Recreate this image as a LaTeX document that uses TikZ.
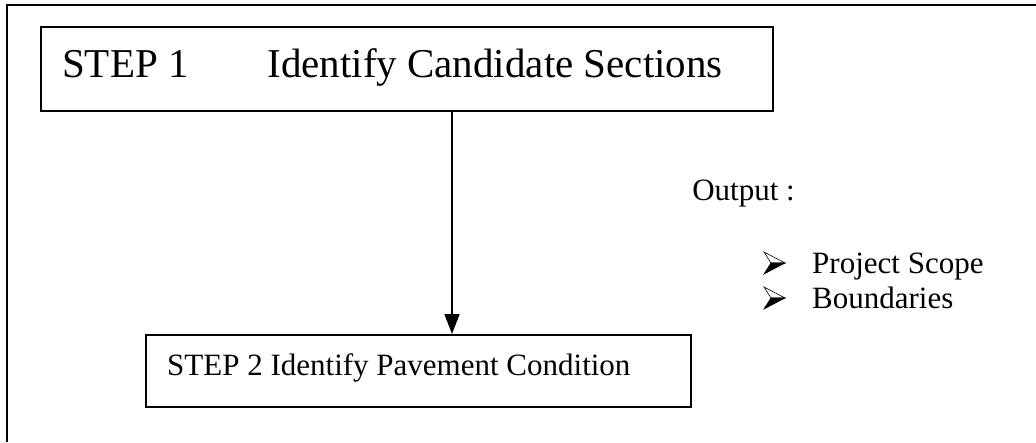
\documentclass[tikz,border=0pt]{standalone}
\usepackage{fontspec}
\setmainfont{Liberation Serif}
\usetikzlibrary{arrows.meta}
\tikzset{
  frameline/.style={line width=1.8pt, black},
  stepbox/.style={draw, line width=1.8pt, black},
  bigtext/.style={font=\fontsize{41}{49}\selectfont, inner sep=0pt},
  normtext/.style={font=\fontsize{31}{37}\selectfont, inner sep=0pt},
  flowarrow/.style={line width=1.8pt, -{Triangle[length=20pt, width=15pt]}},
}
\newcommand{\bulletarrow}[2]{%
  \fill[white, draw=black, line width=0.6pt] (#1-13,#2-11) -- (#1+8,#2) -- (#1-6,#2) -- cycle;
  \fill[black, draw=black, line width=0.6pt] (#1-6,#2) -- (#1+8,#2) -- (#1-13,#2+11) -- cycle;
}
\begin{document}
\begin{tikzpicture}[x=1pt, y=-1pt]
\useasboundingbox (0,0) rectangle (1036,442);
% outer frame (partial)
\coordinate (fa) at (7,442);
\coordinate (fb) at (7,5);
\coordinate (fc) at (1036,5);
\draw[frameline] (fa) -- (fb) -- (fc);
% boxes
\node[stepbox, minimum width=732pt, minimum height=84pt, anchor=north west, inner sep=0pt] (s1) at (40,26) {};
\node[stepbox, minimum width=545pt, minimum height=72pt, anchor=north west, inner sep=0pt] (s2) at (145,334) {};
% texts
\node[bigtext, anchor=base west] (s1a) at (62,77) {STEP 1};
\node[bigtext, anchor=base east] (s1b) at (723,77) {Identify Candidate Sections};
\node[normtext, anchor=base west] (s2t) at (167,375) {STEP 2 Identify Pavement Condition};
\node[normtext, anchor=base east] (out) at (795,200) {Output :};
\node[normtext, anchor=base west] (b1) at (812,273) {Project Scope};
\node[normtext, anchor=base west] (b2) at (812,308) {Boundaries};
% bullets
\bulletarrow{777}{263}
\bulletarrow{777}{298}
% connector
\coordinate (ta) at (452,110);
\coordinate (tb) at (452,334);
\draw[flowarrow] (s1.south -| ta) -- (s2.north -| tb);
\end{tikzpicture}
\end{document}
